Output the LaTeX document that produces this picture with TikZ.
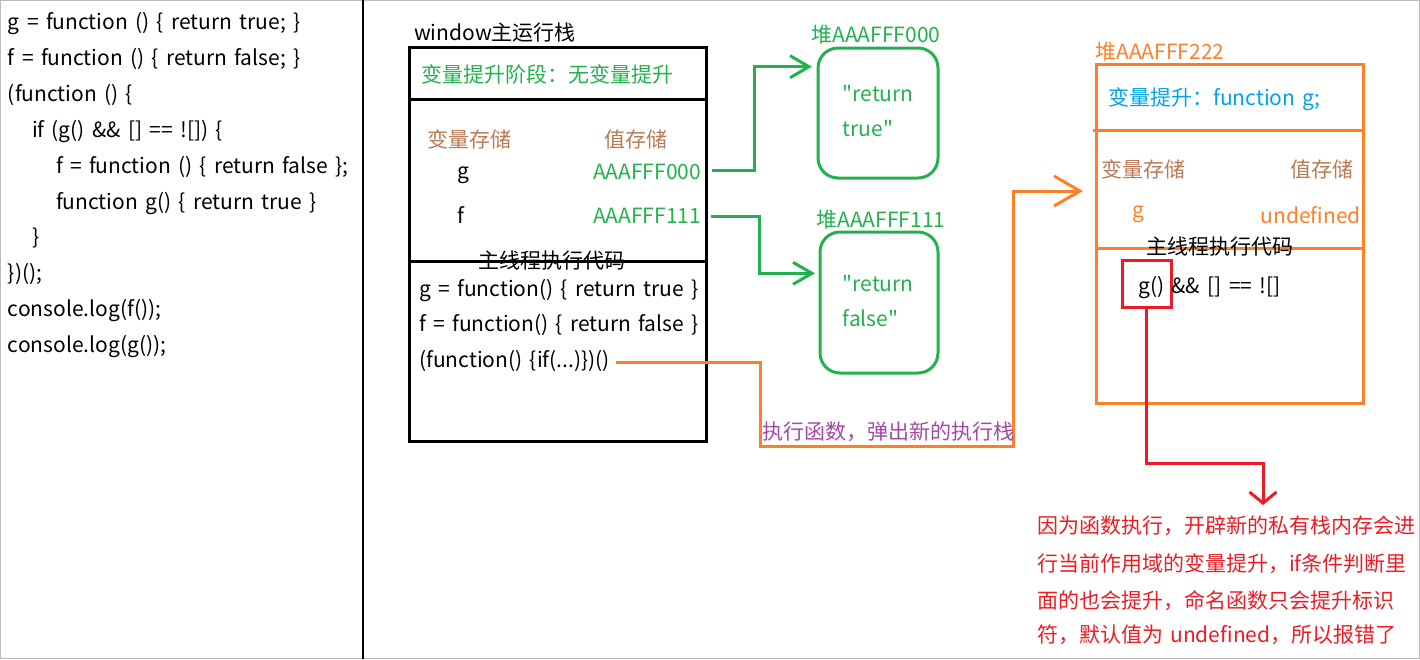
\documentclass[tikz,border=0pt]{standalone}
\usepackage{fontspec}
\setmainfont{Noto Sans CJK SC}[Ligatures=TeXOff,WordSpace=1.55]
\usetikzlibrary{arrows.meta}
\definecolor{pgreen}{HTML}{22B14C}
\definecolor{ptan}{HTML}{B97A57}
\definecolor{porange}{HTML}{FF7F27}
\definecolor{pblue}{HTML}{00A2E8}
\definecolor{ppurple}{HTML}{A349A4}
\definecolor{pred}{HTML}{ED1C24}
\definecolor{pgray}{HTML}{BBBBBB}
\newcommand{\fsz}{\fontsize{21}{25}\selectfont}
\begin{document}
\begin{tikzpicture}[x=1pt,y=-1pt,
  every node/.style={inner sep=0pt,outer sep=0pt,font=\fsz},
  lt/.style={anchor=base west},
  rt/.style={anchor=base east},
  ct/.style={anchor=base},
  boxb/.style={draw,line width=3pt,anchor=north west,minimum width=#1},
  garr/.style={draw=pgreen,line width=3pt,-{Straight Barb[length=19pt,width=22pt]}},
  oarr/.style={draw=porange,line width=3pt,-{Straight Barb[length=26pt,width=30pt]}},
  rarr/.style={draw=pred,line width=3pt,-{Straight Barb[length=11pt,width=27pt]}},
  note/.style={anchor=base west,text=pred},
]
\useasboundingbox (0,0) rectangle (1420,659);
\draw[pgray,line width=1pt] (0.5,0.5) rectangle (1419.5,658.5);
\coordinate (divtop) at (363,0);
\coordinate (divbot) at (363,659);
\draw[line width=2.5pt] (divtop) -- (divbot);

% left code
\node[lt] (c1) at (8,29.3) {g = function () \{ return true; \}};
\node[lt] (c2) at (8,65.2) {f = function () \{ return false; \}};
\node[lt] (c3) at (8,101.2) {(function () \{};
\node[lt] (c4) at (32,137.1) {if (g() \&\& [] == ![]) \{};
\node[lt] (c5) at (56,173.0) {f = function () \{ return false \};};
\node[lt] (c6) at (56,209.0) {function g() \{ return true \}};
\node[lt] (c7) at (32,244.9) {\}};
\node[lt] (c8) at (8,280.8) {\})();};
\node[lt] (c9) at (8,316.8) {console.log(f());};
\node[lt] (c10) at (8,352.7) {console.log(g());};

% main stack
\node[lt] (wt) at (414,40) {window主运行栈};
\node[boxb=297pt,minimum height=394pt] (stack) at (409,47.5) {};
\draw[line width=3pt] (stack.west |- 0,99.5) -- (stack.east |- 0,99.5);
\draw[line width=3pt] (stack.west |- 0,261) -- (stack.east |- 0,261);
\node[lt,text=pgreen] (hoist) at (421,82.5) {变量提升阶段：无变量提升};
\node[lt,text=ptan] (vs) at (427,147) {变量存储};
\node[lt,text=ptan] (vv) at (604,147) {值存储};
\node[lt] (vg) at (457,178.5) {g};
\node[lt] (vf) at (457,223) {f};
\node[rt,text=pgreen] (v0) at (701,179) {AAAFFF000};
\node[rt,text=pgreen] (v1) at (701,223.3) {AAAFFF111};
\node[ct] (mt) at (552,268.5) {主线程执行代码};
\node[lt] (m1) at (419.3,296) {g = function() \{ return true \}};
\node[lt] (m2) at (419.3,331.7) {f = function() \{ return false \}};
\node[lt] (call) at (419.3,367.3) {(function() \{if(...)\})()};

% heaps
\node[lt,text=pgreen] (h0t) at (811.7,42.7) {堆AAAFFF000};
\node[draw=pgreen,line width=3pt,rounded corners=20pt,anchor=north west,minimum width=120pt,minimum height=130pt] (heap0) at (818,48) {};
\node[lt,text=pgreen] (h0a) at (842.7,101) {"return};
\node[lt,text=pgreen] (h0b) at (842.7,136.7) {true"};
\node[lt,text=pgreen] (h1t) at (816.7,227.3) {堆AAAFFF111};
\node[draw=pgreen,line width=3pt,rounded corners=20pt,anchor=north west,minimum width=118pt,minimum height=141pt] (heap1) at (820,232) {};
\node[lt,text=pgreen] (h1a) at (842.7,291.7) {"return};
\node[lt,text=pgreen] (h1b) at (842.7,326.7) {false"};

\coordinate (h0in) at (812,66.7);
\coordinate (h1in) at (815,273.3);
\draw[garr] (v0.base east) ++(11,-9) -- ++(42,0) |- (h0in);
\draw[garr] (v1.base east) ++(10,-7.3) -- ++(48,0) |- (h1in);

% new stack
\node[lt,text=porange] (ot) at (1095.7,59.3) {堆AAAFFF222};
\node[draw=porange,line width=3pt,anchor=north west,minimum width=267pt,minimum height=338.5pt] (obox) at (1096,64.5) {};
\draw[porange,line width=3pt] (1093,130) -- (obox.east |- 0,130);
\draw[porange,line width=3pt] (obox.west |- 0,248) -- (obox.east |- 0,248);
\node[lt,text=pblue] (oh) at (1108.3,105) {变量提升：function g;};
\node[lt,text=ptan] (os) at (1101,177) {变量存储};
\node[rt,text=ptan] (ov) at (1353.3,177) {值存储};
\node[lt,text=porange] (og) at (1132.7,217) {g};
\node[rt,text=porange] (ou) at (1360.7,223.3) {undefined};
\node[ct] (omt) at (1220,254.5) {主线程执行代码};
\node[draw=pred,line width=3pt,anchor=north west,minimum width=49pt,minimum height=47.5pt] (redbox) at (1122,260) {};
\node[lt] (gcall) at (1138.3,293.3) {g()};
\node[lt] (rest) at (1171.7,293.3) {\&\& [] == ![]};

\coordinate (obot) at (760,446.5);
\coordinate (oend) at (1083,191);
\draw[oarr] (call.base east) ++(6,-5) -| (obot) -- ++(253.5,0) |- (oend);
\node[lt,text=ppurple] (exec) at (762,439) {执行函数，弹出新的执行栈};

\coordinate (rend) at (1263,505);
\draw[rarr] (redbox.south) -- ++(0,155.5) -| (rend);

\node[note] (n1) at (1037,533.5) {因为函数执行，开辟新的私有栈内存会进};
\node[note] (n2) at (1037,571.5) {行当前作用域的变量提升，if条件判断里};
\node[note] (n3) at (1037,608.5) {面的也会提升，命名函数只会提升标识};
\node[note] (n4) at (1037,642) {符，默认值为 undefined，所以报错了};
\end{tikzpicture}
\end{document}
